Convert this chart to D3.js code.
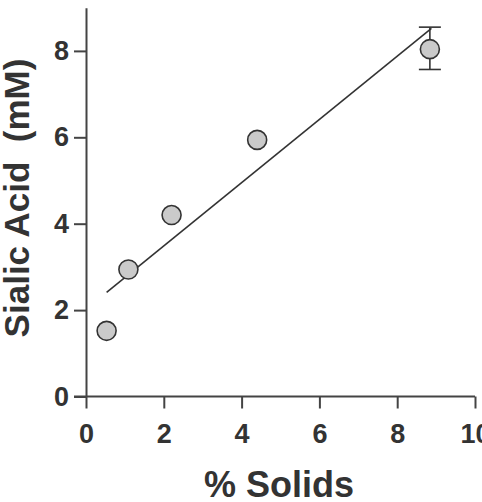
<!DOCTYPE html>
<html>
<head>
<meta charset="utf-8">
<script src="https://cdn.jsdelivr.net/npm/d3@7"></script>
<style>
  body { margin: 0; background: #fff; }
  svg { display: block; overflow: hidden; }
  text { font-family: "Liberation Sans", Arial, sans-serif; font-weight: bold; fill: #333; }
</style>
</head>
<body>
<div class="d3-container"></div>
<script>
// measured points
const solids = [0.53, 1.09, 2.2, 4.4, 8.84];
const sialic = [1.52, 2.94, 4.2, 5.94, 8.04];
const errTop = [null, null, null, null, 8.55];
const errBottom = [null, null, null, null, 7.57];

// fitted line, end points
const fitX = [0.53, 8.88];
const fitY = [2.41, 8.52];

const xTicks = [0, 2, 4, 6, 8, 10];
const yTicks = [0, 2, 4, 6, 8];

const W = 482, H = 502;

const svg = d3.select(".d3-container").append("svg")
    .attr("width", W).attr("height", H);

const x = d3.scaleLinear().domain([0, 10]).range([86, 475]);
const y = d3.scaleLinear().domain([0, 9]).range([396.5, 7.7]);

const xAxis = svg.append("g")
    .attr("transform", `translate(0, ${y(0)})`)
    .call(d3.axisBottom(x).tickValues(xTicks).tickSize(12).tickSizeOuter(0).tickPadding(15))
xAxis.selectAll("text").style("font-size", "27px").style("font-family", null);

const yAxis = svg.append("g")
    .attr("transform", `translate(${x(0)}, 0)`)
    .call(d3.axisLeft(y).tickValues(yTicks).tickSize(12).tickSizeOuter(0).tickPadding(5))
yAxis.selectAll("text").style("font-size", "27px").style("font-family", null);

svg.selectAll(".domain, .tick line").attr("stroke", "#444").attr("stroke-width", 2);
// x axis starts at the end of the y 0 tick
xAxis.select(".domain").attr("d", `M${x(0) - 12},0H${x(10)}`);

// regression line
svg.append("line")
    .attr("x1", x(fitX[0])).attr("y1", y(fitY[0]))
    .attr("x2", x(fitX[1])).attr("y2", y(fitY[1]))
    .attr("stroke", "#333").attr("stroke-width", 1.6);

const pts = solids.map((v, i) => ({ x: v, y: sialic[i], hi: errTop[i], lo: errBottom[i] }));

// error bars
const eb = svg.selectAll(".err").data(pts.filter(d => d.hi != null)).join("g")
    .attr("stroke", "#333").attr("stroke-width", 1.6);
eb.append("line")
    .attr("x1", d => x(d.x)).attr("x2", d => x(d.x))
    .attr("y1", d => y(d.hi)).attr("y2", d => y(d.lo));
eb.append("line")
    .attr("x1", d => x(d.x) - 11).attr("x2", d => x(d.x) + 11)
    .attr("y1", d => y(d.hi)).attr("y2", d => y(d.hi));
eb.append("line")
    .attr("x1", d => x(d.x) - 11).attr("x2", d => x(d.x) + 11)
    .attr("y1", d => y(d.lo)).attr("y2", d => y(d.lo));

svg.selectAll("circle").data(pts).join("circle")
    .attr("cx", d => x(d.x)).attr("cy", d => y(d.y))
    .attr("r", 9.5)
    .attr("fill", "#cacaca").attr("stroke", "#333").attr("stroke-width", 1.6);

// axis titles
svg.append("text")
    .attr("x", 279).attr("y", 497)
    .attr("text-anchor", "middle")
    .style("font-size", "36px")
    .text("% Solids");

svg.append("text")
    .attr("transform", "translate(29, 198) rotate(-90)")
    .attr("text-anchor", "middle")
    .style("font-size", "35px")
    .style("white-space", "pre")
    .text("Sialic Acid  (mM)");
</script>
</body>
</html>
